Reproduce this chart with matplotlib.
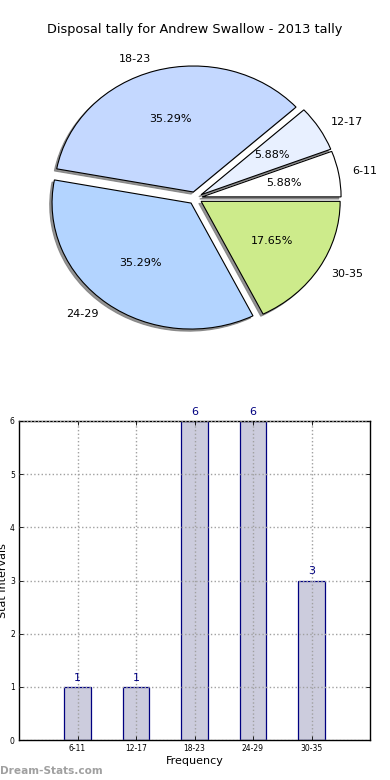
import matplotlib
matplotlib.use("Agg")
import matplotlib.pyplot as plt

categories = ["6-11", "12-17", "18-23", "24-29", "30-35"]
counts = [1, 1, 6, 6, 3]
pie_colors = ["#ffffff", "#e8f0ff", "#c4d8ff", "#b3d4ff", "#cdeb8b"]
title = "Disposal tally for Andrew Swallow - 2013 tally"
y_ticks = [0, 1, 2, 3, 4, 5, 6]

plt.rcParams['font.family'] = ['DejaVu Sans']

fig = plt.figure(figsize=(3.9, 7.8), dpi=100)

# Pie
axp = fig.add_axes([0.0551, 0.5442, 0.891, 0.4038])
wedges, texts, autotexts = axp.pie(
    counts, labels=categories, colors=pie_colors, explode=[0.05] * len(counts),
    autopct='%1.2f%%',
    shadow={'ox': -0.012, 'oy': -0.012, 'facecolor': '#7a7a7a', 'edgecolor': '#7a7a7a',
            'alpha': 0.8},
    startangle=0, pctdistance=0.6, labeldistance=1.1,
    wedgeprops=dict(edgecolor='black', linewidth=0.8), textprops=dict(fontsize=8))
axp.set_aspect('auto')
axp.set_xlim(-1.25, 1.25)
axp.set_ylim(-1.25, 1.25)
for t in texts:
    t.set_verticalalignment('center')
fig.text(0.5, 1 - 30 / 780, title, ha='center', va='center', fontsize=9.3)

# Bars
axb = fig.add_axes([19 / 390, 1 - 740 / 780, 351 / 390, 319 / 780])
x = list(range(len(categories)))
bars = axb.bar(x, counts, width=0.45, color='#ccccdd', edgecolor='#000080', linewidth=0.9)
axb.set_xlim(-1, 5)
axb.set_ylim(0, 6)
axb.set_xticks(x)
axb.set_xticklabels(categories, fontsize=5.5)
axb.set_yticks(y_ticks)
axb.set_yticklabels([str(v) for v in y_ticks], fontsize=5.5)
axb.tick_params(direction='in', top=True, right=True, length=3, width=0.6, pad=3)
axb.set_axisbelow(False)
axb.grid(True, linestyle=':', color='#a0a0a0', linewidth=1.0)
for s in axb.spines.values():
    s.set_linewidth(1.0)
for xi, v in zip(x, counts):
    axb.text(xi, v + 0.08, str(v), ha='center', va='bottom', fontsize=8,
             color='#000080', clip_on=False)
axb.set_xlabel("Frequency", fontsize=8, labelpad=2)
axb.set_ylabel("Stat Intervals", fontsize=8)
axb.yaxis.set_label_coords(-0.032, 0.5)

fig.text(0.0, 1 - 771 / 780, "Dream-Stats.com", ha='left', va='center', fontsize=7.6,
         color='#a0a0a0', fontweight='bold')

fig.savefig("out.png", dpi=100)
